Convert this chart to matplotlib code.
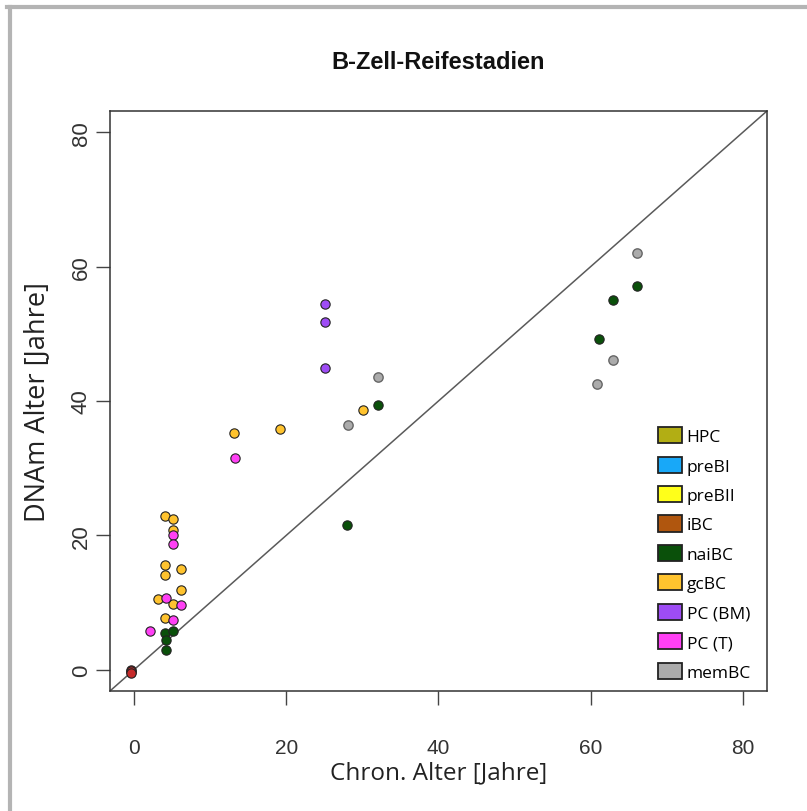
import matplotlib
matplotlib.use('agg')
import matplotlib.pyplot as plt
from matplotlib.patches import Patch
from matplotlib.lines import Line2D

# cell types in legend order, with their fill colours
stages = ['HPC', 'preBI', 'preBII', 'iBC', 'naiBC', 'gcBC', 'PC (BM)', 'PC (T)', 'memBC']
colors = ['#b2ae14', '#18a8f8', '#ffff1a', '#b0560e', '#0a500a',
          '#ffc32e', '#9e4cf5', '#ff40f5', '#ababab']

# chronological age vs. DNAm age per sample
# (the early stages sit at age 0 on top of each other)
early_age = [-0.4, -0.4, -0.4, -0.4]
early_dnam = [0.0, -0.3, -0.2, -0.5]
early_color = '#c62a2a'

naibc_age = [4.05, 5.15, 4.14, 4.14, 28.0, 32.1, 61.1, 63.0, 66.1]
naibc_dnam = [5.5, 5.7, 4.4, 2.9, 21.6, 39.4, 49.3, 55.1, 57.1]

gcbc_age = [4.05, 5.15, 5.15, 4.05, 4.05, 6.16, 6.16, 3.08, 5.15, 4.05, 13.15, 19.1, 30.1]
gcbc_dnam = [22.8, 22.4, 20.8, 15.6, 14.1, 14.9, 11.8, 10.5, 9.8, 7.7, 35.2, 35.8, 38.7]

pcbm_age = [25.07, 25.07, 25.07]
pcbm_dnam = [54.5, 51.7, 44.9]

pct_age = [5.15, 5.15, 4.14, 6.16, 5.15, 2.07, 13.2]
pct_dnam = [20.0, 18.7, 10.7, 9.6, 7.4, 5.7, 31.5]

membc_age = [28.06, 32.1, 60.9, 63.0, 66.1]
membc_dnam = [36.4, 43.6, 42.5, 46.1, 62.1]

ticks = [0, 20, 40, 60, 80]
lim = (-3.2, 83.2)

fig = plt.figure(figsize=(8.07, 8.12), dpi=100)
ax = fig.add_axes([0.1363, 0.1478, 0.8141, 0.7143])

ax.axline((0, 0), slope=1, color='#5a5a5a', lw=1.1, zorder=1)

pt = dict(s=45, edgecolors='#222222', linewidths=0.8, zorder=3)
ax.scatter(early_age, early_dnam, c=early_color, **pt)
ax.scatter(naibc_age, naibc_dnam, c=colors[4], **pt)
ax.scatter(gcbc_age, gcbc_dnam, c=colors[5], **pt)
ax.scatter(pcbm_age, pcbm_dnam, c=colors[6], **pt)
ax.scatter(pct_age, pct_dnam, c=colors[7], **pt)
ax.scatter(membc_age, membc_dnam, c=colors[8], edgecolors='#666666', linewidths=1.0, s=45, zorder=3)

ax.set_xlim(lim)
ax.set_ylim(lim)
ax.set_xticks(ticks)
ax.set_yticks(ticks)
ax.tick_params(length=10, width=1, color='#444444', labelcolor='#333333')
ax.tick_params(axis='x', labelsize=15, pad=24)
ax.tick_params(axis='y', labelsize=16, pad=3)
for lab in ax.get_xticklabels() + ax.get_yticklabels():
    lab.set_family('Liberation Sans')
for lab in ax.get_yticklabels():
    lab.set_rotation(90)
    lab.set_va('center')
for sp in ax.spines.values():
    sp.set_color('#333333')
    sp.set_linewidth(1.1)

ax.set_xlabel('Chron. Alter [Jahre]', family='Open Sans', fontsize=17.5, color='#222222', labelpad=2)
ax.set_ylabel('DNAm Alter [Jahre]', family='Open Sans', fontsize=19.5, color='#222222', labelpad=14)
fig.text(0.5434, 0.9236, 'B-Zell-Reifestadien', family='Liberation Sans', weight='bold',
         fontsize=17, ha='center', va='center', color='#111111')

handles = [Patch(facecolor=c, edgecolor='#222222', linewidth=1.3) for c in colors]
ax.legend(handles, stages, loc='lower left', bbox_to_anchor=(0.834, 0.018), frameon=False,
          borderpad=0, borderaxespad=0, handlelength=1.4, handleheight=1.05,
          handletextpad=0.25, labelspacing=0.66, prop={'family': 'Open Sans', 'size': 12.5})

# window frame on the left and top edge
fig.add_artist(Line2D([0.0125, 0.0125], [0, 0.99], color='#b4b4b4', lw=3))
fig.add_artist(Line2D([0.009, 1], [0.99, 0.99], color='#b4b4b4', lw=3))

fig.savefig('out.png', dpi=100)
